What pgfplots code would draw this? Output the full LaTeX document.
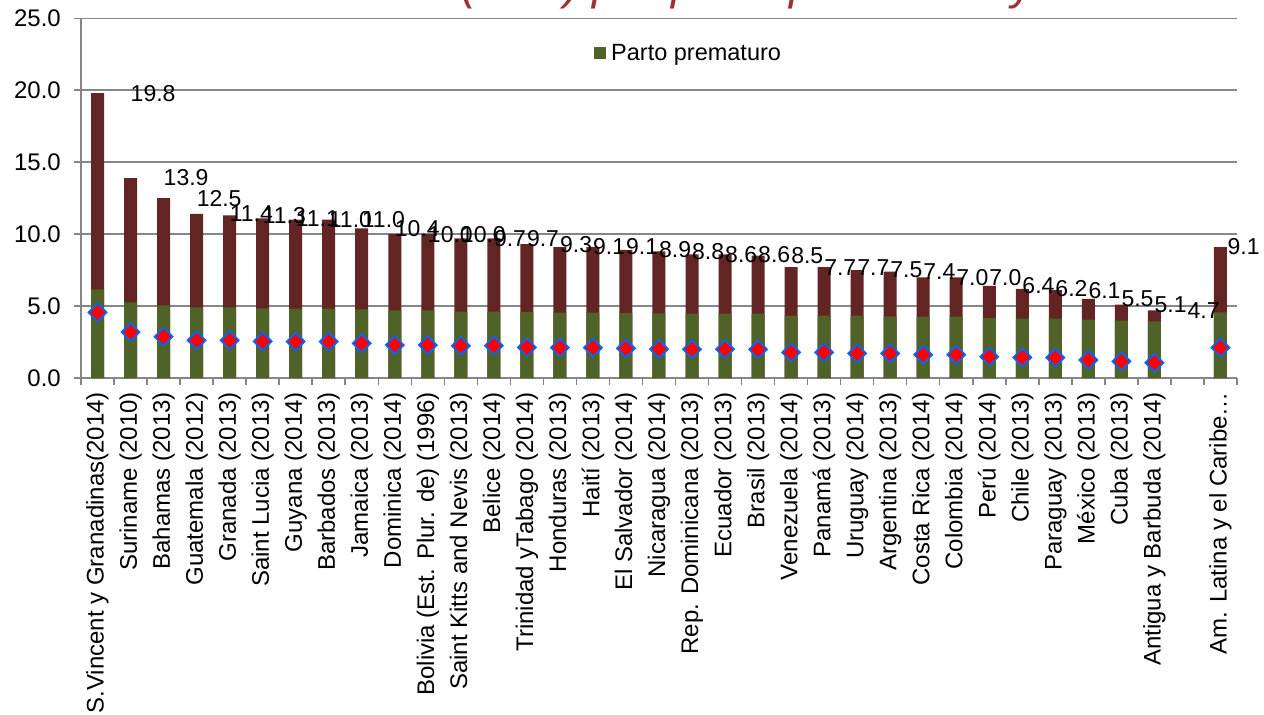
\documentclass[border=0pt]{standalone}
\usepackage{pgfplots}
\pgfplotsset{compat=1.18}
\usepackage{pgfplotstable}
\usepackage{fontspec}
\setmainfont{Liberation Sans}

\definecolor{barred}{HTML}{632523}
\definecolor{bargreen}{HTML}{4F6228}
\definecolor{gridgray}{HTML}{868686}
\definecolor{mkblue}{HTML}{0066FF}
\definecolor{titlered}{HTML}{9E3034}

% idx: slot on the x axis (33 is left empty), total = whole bar, green = parto prematuro
\pgfplotstableread{
idx total green diamond
0  19.8 6.16 4.56
1  13.9 5.25 3.19
2  12.5 5.05 2.87
3  11.4 4.91 2.62
4  11.3 4.91 2.62
5  11.1 4.84 2.55
6  11.0 4.82 2.53
7  11.0 4.82 2.53
8  10.4 4.77 2.41
9  10.0 4.70 2.29
10 10.0 4.70 2.29
11 9.7  4.62 2.24
12 9.7  4.61 2.25
13 9.3  4.58 2.13
14 9.1  4.54 2.11
15 9.1  4.54 2.11
16 8.9  4.51 2.06
17 8.8  4.49 2.01
18 8.6  4.47 2.00
19 8.6  4.47 2.00
20 8.5  4.47 1.99
21 7.7  4.33 1.78
22 7.7  4.33 1.78
23 7.5  4.33 1.71
24 7.4  4.28 1.71
25 7.0  4.26 1.62
26 7.0  4.26 1.62
27 6.4  4.17 1.48
28 6.2  4.12 1.43
29 6.1  4.12 1.42
30 5.5  4.05 1.25
31 5.1  3.98 1.16
32 4.7  3.93 1.06
34 9.1  4.56 2.11
}\datatable

\begin{document}
\begin{tikzpicture}
\useasboundingbox (0pt,0pt) rectangle (1264pt,715pt);
\begin{axis}[
   at={(81pt,337pt)}, anchor=south west,
   scale only axis, width=1156pt, height=359.7pt,
   xmin=-0.5, xmax=34.5, ymin=0, ymax=25,
   axis lines*=left,
   axis line style={draw=gridgray, line width=1.5pt},
   ymajorgrids, grid style={draw=gridgray, line width=1.5pt},
   tick align=outside, major tick length=7pt,
   tick style={draw=gridgray, line width=1.5pt},
   /pgf/number format/assume math mode=true,
   ytick={0,5,...,25},
   yticklabel={\pgfmathprintnumber[fixed,fixed zerofill,precision=1]{\tick}},
   yticklabel style={font=\fontsize{24}{24}\selectfont, inner sep=0pt, xshift=-13pt},
   xtick={-0.5,0.5,...,34.5},
   x tick label as interval,
   xticklabel style={rotate=90, anchor=east, inner sep=0pt, xshift=-7pt,
       font=\fontsize{24}{24}\selectfont},
   xticklabels={
     S.Vincent y Granadinas(2014), Suriname (2010), Bahamas (2013),
     Guatemala (2012), Granada (2013), Saint Lucia (2013), Guyana (2014),
     Barbados (2013), Jamaica (2013), Dominica (2014),
     Bolivia (Est. Plur. de) (1996), Saint Kitts and Nevis (2013),
     Belice (2014), Trinidad yTabago (2014), Honduras (2013), Haití (2013),
     El Salvador (2014), Nicaragua (2014), Rep. Dominicana (2013),
     Ecuador (2013), Brasil (2013), Venezuela (2014), Panamá (2013),
     Uruguay (2014), Argentina (2013), Costa Rica (2014), Colombia (2014),
     Perú (2014), Chile (2013), Paraguay (2013), México (2013), Cuba (2013),
     Antigua y Barbuda (2014), {}, Am. Latina y el Caribe…},
   legend style={at={(0.4438,0.9035)}, anchor=west, draw=none, fill=none,
       inner sep=0pt, font=\fontsize{23.5}{23.5}\selectfont},
   legend image code/.code={\fill[bargreen] (0pt,-6pt) rectangle (12pt,6pt);},
   clip=false,
]
\addplot[ybar, bar width=13pt, bar shift=0pt, fill=barred, draw=none, forget plot]
   table[x=idx, y=total] {\datatable};
\addplot[ybar, bar width=13pt, bar shift=0pt, fill=bargreen, draw=none]
   table[x=idx, y=green] {\datatable};
\addlegendentry{\hspace{3pt}Parto prematuro}
\addplot[only marks, mark=square*, mark size=6.3pt, forget plot,
   mark options={rotate=45, fill=red, draw=mkblue, line width=1.8pt}]
   table[x=idx, y=diamond] {\datatable};
% value labels, set off to the right of their bars as in the source
\addplot[draw=none, mark=none, forget plot, restrict x to domain=0:32,
   point meta=y,
   nodes near coords={\pgfmathprintnumber[fixed,fixed zerofill,precision=1]{\pgfplotspointmeta}},
   nodes near coords style={anchor=west, xshift=33pt, inner sep=0pt,
       font=\fontsize{23}{23}\selectfont}]
   table[x=idx, y=total] {\datatable};
\addplot[draw=none, mark=none, forget plot, restrict x to domain=33.5:34.5,
   point meta=y,
   nodes near coords={\pgfmathprintnumber[fixed,fixed zerofill,precision=1]{\pgfplotspointmeta}},
   nodes near coords style={anchor=west, xshift=7pt, inner sep=0pt,
       font=\fontsize{23}{23}\selectfont}]
   table[x=idx, y=total] {\datatable};
\end{axis}
% title: only its lowest strokes fall inside the page, as in the source
\node[anchor=base west, text=titlered, inner sep=0pt,
   font=\fontsize{46}{46}\selectfont\itshape] at (45pt,715pt)
   {Mortalidad neonatal (tasa) por parto prematuro y otras causas};
\end{tikzpicture}
\end{document}
